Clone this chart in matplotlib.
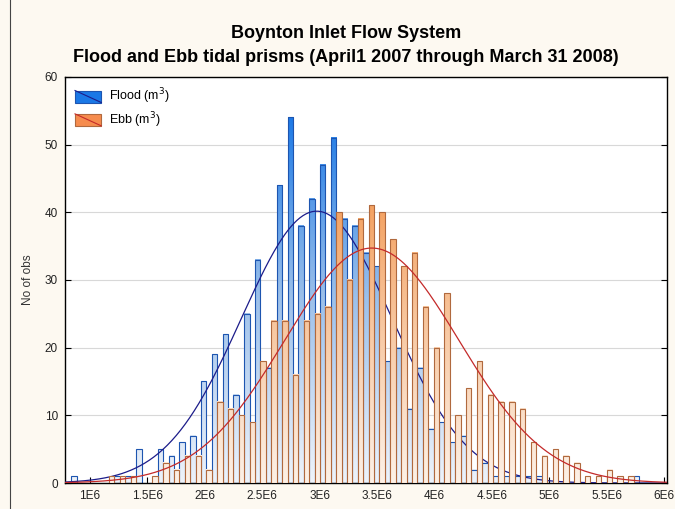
import numpy as np
import matplotlib
matplotlib.use("Agg")
import matplotlib.pyplot as plt
from matplotlib.colors import LinearSegmentedColormap
from matplotlib.patches import Rectangle
from matplotlib.legend_handler import HandlerPatch
from matplotlib.lines import Line2D

# histogram counts per interval (flood / ebb side by side in each interval)
flood = [1, 0, 0, 0, 1, 1, 5, 0, 5, 4, 6, 7, 15, 19, 22, 13, 25, 33, 17, 44,
         54, 38, 42, 47, 51, 39, 38, 34, 32, 18, 20, 11, 17, 8, 9, 6, 7, 2, 3, 1,
         1, 1, 1, 1, 0, 0, 0, 0, 0, 0, 0, 0, 1]
ebb = [0, 0, 0, 1, 1, 1, 0, 1, 3, 2, 4, 4, 2, 12, 11, 10, 9, 18, 24, 24,
       16, 24, 25, 26, 40, 30, 39, 41, 40, 36, 32, 34, 26, 20, 28, 10, 14, 18, 13, 12,
       12, 11, 6, 4, 5, 4, 3, 1, 1, 2, 1, 1, 0]
bin_start = 0.837e6
bin_width = 0.0942e6

# fitted normal curves (mean, std)
flood_fit = (2.975e6, 0.655e6)
ebb_fit = (3.455e6, 0.76e6)

xticks = np.arange(1e6, 6.01e6, 0.5e6)
xticklabels = ['1E6', '1.5E6', '2E6', '2.5E6', '3E6', '3.5E6', '4E6', '4.5E6', '5E6', '5.5E6', '6E6']
yticks = [0, 10, 20, 30, 40, 50, 60]

edges = bin_start + bin_width * np.arange(len(flood))
half = bin_width / 2

blue_cmap = LinearSegmentedColormap.from_list('b', ['#eef3fa', '#9cc0ea', '#1a78e6'])
orange_cmap = LinearSegmentedColormap.from_list('o', ['#fdf1e7', '#f8c9a3', '#f39a55'])

plt.rcParams['font.family'] = ['Liberation Sans', 'DejaVu Sans']

fig = plt.figure(figsize=(6.75, 5.09), dpi=100)
fig.patch.set_facecolor('#fdf9f1')
ax = fig.add_axes([0.0963, 0.051, 0.8917, 0.798])
ax.set_facecolor('white')


def draw_bars(x0s, vals, cmap, vmax, edgecol, z):
    for x0, v in zip(x0s, vals):
        if v <= 0:
            continue
        grad = np.linspace(0, v, 64).reshape(-1, 1)
        ax.imshow(grad, extent=[x0, x0 + half, 0, v], origin='lower', cmap=cmap,
                  vmin=0, vmax=vmax, aspect='auto', zorder=z, interpolation='bilinear')
        ax.add_patch(Rectangle((x0, 0), half, v, fill=False, edgecolor=edgecol,
                               linewidth=0.8, zorder=z + 0.1))


def normal_curve(vals, fit):
    n = float(np.sum(vals))
    m, sd = fit
    xs = np.linspace(0.78e6, 6.02e6, 400)
    ys = n * bin_width * np.exp(-0.5 * ((xs - m) / sd) ** 2) / (sd * np.sqrt(2 * np.pi))
    return xs, ys


draw_bars(edges, flood, blue_cmap, 55, '#1d55b0', 2)
fx, fy = normal_curve(flood, flood_fit)
ax.plot(fx, fy, color='#1c1c8a', lw=0.9, zorder=3)
draw_bars(edges + half, ebb, orange_cmap, 45, '#b0693e', 4)
ex, ey = normal_curve(ebb, ebb_fit)
ax.plot(ex, ey, color='#c42a2a', lw=0.9, zorder=5)

ax.set_xlim(0.783e6, 6.025e6)
ax.set_ylim(0, 60)
ax.set_xticks(xticks)
ax.set_xticklabels(xticklabels)
ax.set_yticks(yticks)
ax.grid(axis='y', color='#d8d8d8', lw=0.8, zorder=0)
ax.set_axisbelow(True)
ax.tick_params(direction='in', length=4, width=0.8, labelsize=8.5, labelcolor='#222222',
               right=True, top=False, pad=5)
for s in ax.spines.values():
    s.set_linewidth(1.0)
    s.set_color('black')
ax.set_ylabel('No of obs', fontsize=8.5, color='#333333', labelpad=8)

fig.text(0.513, 1 - 33 / 509, 'Boynton Inlet Flow System', ha='center', va='center',
         fontsize=13, fontweight='bold')
fig.text(0.513, 1 - 57 / 509, 'Flood and Ebb tidal prisms (April1 2007 through March 31 2008)',
         ha='center', va='center', fontsize=13, fontweight='bold')

# window frame line on the left edge
fig.add_artist(Line2D([10 / 675, 10 / 675], [0, 1], color='#444444', lw=0.8))


class BarLineHandler(HandlerPatch):
    def __init__(self, linecolor):
        super().__init__()
        self.linecolor = linecolor

    def create_artists(self, legend, orig_handle, xdescent, ydescent, width, height, fontsize, trans):
        r = Rectangle((-xdescent, -ydescent), width, height, facecolor=orig_handle.get_facecolor(),
                      edgecolor=orig_handle.get_edgecolor(), lw=0.8, transform=trans)
        ln = Line2D([-xdescent, -xdescent + width], [-ydescent + height, -ydescent],
                    color=self.linecolor, lw=0.8, transform=trans)
        return [r, ln]


h1 = Rectangle((0, 0), 1, 1, facecolor='#1a78e6', edgecolor='#1d55b0')
h2 = Rectangle((0, 0), 1, 1, facecolor='#f68c4e', edgecolor='#b0693e')
ax.legend([h1, h2], ['Flood (m$^3$)', 'Ebb (m$^3$)'],
          handler_map={h1: BarLineHandler('#1c1c8a'), h2: BarLineHandler('#c42a2a')},
          loc='upper left', frameon=False, fontsize=9, handlelength=2.1, handleheight=1.1,
          borderaxespad=0.4, labelspacing=0.3, handletextpad=0.6)

fig.savefig('out.png', dpi=100, facecolor=fig.get_facecolor())
